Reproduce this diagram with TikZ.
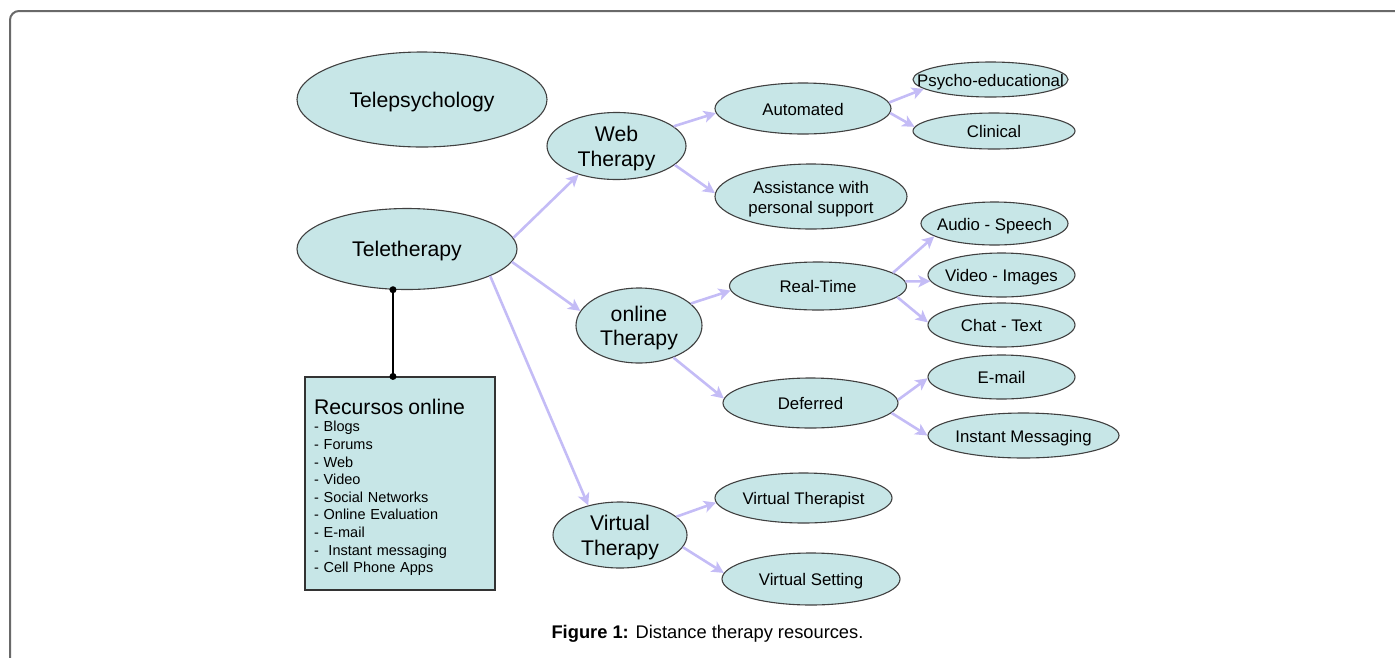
\documentclass[tikz,border=0pt]{standalone}
\usepackage{fontspec}
\setmainfont{Liberation Sans}
\usetikzlibrary{shapes.geometric,arrows.meta}

\definecolor{bubblefill}{RGB}{199,230,231}
\definecolor{linkcol}{RGB}{196,188,246}
\definecolor{framecol}{RGB}{105,105,105}
\newcommand{\bigtxt}{\fontsize{21.2}{24.3}\selectfont}
\newcommand{\midtxt}{\fontsize{16.8}{20}\selectfont}
\newcommand{\inside}[1]{\makebox[0pt]{\raisebox{0pt}[\height][\dimexpr\depth-6pt\relax]{%
  \begin{tabular}{@{}c@{}}#1\end{tabular}}}}

\begin{document}
\begin{tikzpicture}[x=1pt,y=-1pt,line width=1pt,>={Stealth[length=12pt,width=12pt,inset=3pt]},
  bubble/.style 2 args={ellipse,draw=black!75,line width=1.1pt,fill=bubblefill,inner sep=0pt,
    minimum width=#1pt,minimum height=#2pt},
  topic/.style 2 args={bubble={#1}{#2},font=\bigtxt},
  leaf/.style 2 args={bubble={#1}{#2},font=\midtxt},
  link/.style={->,draw=linkcol,line width=2.6pt}]
\useasboundingbox (0,0) rectangle (1395,657);
% page frame
\draw[framecol,line width=2pt,rounded corners=9pt] (10,670) -- (10,11) -- (1410,11);

% left column
\node[topic={250}{95}] (telepsy) at (422,99.5) {\inside{Telepsychology}};
\node[topic={220}{81}] (teleth) at (407,249) {\inside{Teletherapy}};
\node[draw=black!80,line width=1.1pt,fill=bubblefill,minimum height=213pt,text width=172pt,
  inner xsep=9pt,inner ysep=0pt,align=left,font=\fontsize{14.5}{17.6}\selectfont]
  (recursos) at (400,483.5)
  {\rule{0pt}{23pt}{\fontsize{21.2}{17.6}\selectfont Recursos online}\\
   - Blogs\\
   - Forums\\
   - Web\\
   - Video\\
   - Social Networks\\
   - Online Evaluation\\
   - E-mail\\
   - \ Instant messaging\\
   - Cell Phone Apps};
\coordinate (boxtop) at (teleth.251 |- recursos.north);
\draw[line width=1.3pt] (teleth.251) -- (boxtop);
\fill (teleth.251) circle (3.5pt);
\fill (boxtop) circle (3.5pt);

% therapy kinds
\node[topic={139}{67}] (web) at (616.5,146) {\inside{Web\\Therapy}};
\node[topic={126}{75}] (online) at (639,325.5) {\inside{online\\Therapy}};
\node[topic={134}{66}] (virtual) at (620,535) {\inside{Virtual\\Therapy}};

% second level
\node[leaf={176}{51}] (auto) at (803,108.5) {\inside{Automated}};
\node[leaf={192}{65}] (assist) at (811,196.5) {\inside{Assistance with\\personal support}};
\node[leaf={177}{48}] (realtime) at (818,286) {\inside{Real-Time}};
\node[leaf={175}{50}] (deferred) at (810.5,403) {\inside{Deferred}};
\node[leaf={177}{50}] (vtherapist) at (803.5,498) {\inside{Virtual Therapist}};
\node[leaf={178}{52}] (vsetting) at (811,579) {\inside{Virtual Setting}};

% third level
\node[leaf={155}{35}] (psycho) at (990.5,79.5) {\inside{Psycho-educational}};
\node[leaf={162}{36}] (clinic) at (994,131) {\inside{Clinical}};
\node[leaf={147}{43}] (audio) at (994.5,223.5) {\inside{Audio - Speech}};
\node[leaf={147}{44}] (video) at (1001.5,275) {\inside{Video - Images}};
\node[leaf={147}{44}] (chat) at (1001.5,325) {\inside{Chat - Text}};
\node[leaf={147}{44}] (email) at (1001.5,377) {\inside{E-mail}};
\node[leaf={191}{45}] (instant) at (1023.5,435.5) {\inside{Instant Messaging}};

% arrows
\draw[link] (teleth.6) -- (web.217);
\draw[link] (teleth.-7) -- (online.166);
\draw[link] (teleth.-18) -- (virtual.137);
\draw[link] (web.19) -- (auto.183);
\draw[link] (web.-18) -- (assist.178);
\draw[link] (auto.4) -- (psycho.188);
\draw[link] (auto.-3) -- (clinic.177);
\draw[link] (online.23) -- (realtime.183);
\draw[link] (online.-43) -- (deferred.177);
\draw[link] (realtime.10) -- (audio.192);
\draw[link] (realtime.3) -- (video.185);
\draw[link] (realtime.-8) -- (chat.178);
\draw[link] (deferred.2) -- (email.181);
\draw[link] (deferred.-7) -- (instant.180);
\draw[link] (virtual.18) -- (vtherapist.183);
\draw[link] (virtual.-11) -- (vsetting.176);

% caption
\node[font=\fontsize{18.3}{22}\selectfont] (caption) at (707.5,634)
  {\textbf{Figure 1:} Distance therapy resources.};
\end{tikzpicture}
\end{document}
